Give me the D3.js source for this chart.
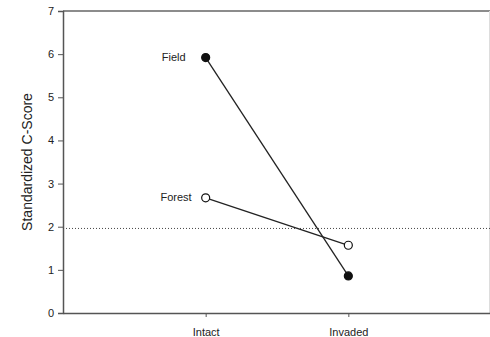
<!DOCTYPE html>
<html><head><meta charset="utf-8">
<script src="https://cdn.jsdelivr.net/npm/d3@7"></script>
<style>body{margin:0;background:#fff}svg{display:block}text{font-family:"Liberation Sans",Arial,sans-serif;fill:#222}</style>
</head><body><svg id="c" width="490" height="337"></svg>
<script>
const categories = ["Intact", "Invaded"];
const seriesNames = ["Field", "Forest"];
const fieldValues = [5.92, 0.86];
const forestValues = [2.67, 1.57];
const yTicks = [0, 1, 2, 3, 4, 5, 6, 7];
const refLine = 1.96;
const yTitle = "Standardized C-Score";

const svg = d3.select("#c");
const m = {l: 63, r: 0, t: 11, b: 24};
const x = d3.scaleLinear().domain([0, 3]).range([m.l, 491]);
const y = d3.scaleLinear().domain([0, 7]).range([313, m.t]);
const xPos = i => x(i + 1);

// frame top and right
svg.append("line").attr("x1", m.l).attr("x2", 490).attr("y1", y(7)).attr("y2", y(7))
  .attr("stroke", "#666").attr("stroke-width", 1.5);
svg.append("line").attr("x1", 489.5).attr("x2", 489.5).attr("y1", y(7)).attr("y2", y(0))
  .attr("stroke", "#ddd").attr("stroke-width", 1);

// y axis
const ya = svg.append("g").attr("transform", `translate(${m.l},0)`)
  .call(d3.axisLeft(y).tickValues(yTicks).tickFormat(d3.format("d")).tickSize(5).tickPadding(4));
ya.select(".domain").attr("stroke", "#555").attr("stroke-width", 1.5);
ya.selectAll(".tick line").attr("stroke", "#555");
ya.selectAll("text").attr("font-size", 11).style("fill", "#222");

// x axis
const xa = svg.append("g").attr("transform", `translate(0,${y(0)})`)
  .call(d3.axisBottom(x).tickValues([1, 2]).tickFormat(d => categories[d - 1]).tickSize(4).tickSizeOuter(0).tickPadding(11));
xa.select(".domain").attr("stroke", "#555").attr("stroke-width", 1.5);
xa.selectAll(".tick line").attr("stroke", "#555");
xa.selectAll("text").attr("font-size", 11).style("fill", "#222");

// reference dotted line
svg.append("line").attr("x1", m.l).attr("x2", 490).attr("y1", y(refLine)).attr("y2", y(refLine))
  .attr("stroke", "#444").attr("stroke-width", 1).attr("stroke-dasharray", "1,2");

// y title
svg.append("text").attr("transform", `translate(28,${(y(0)+y(7))/2}) rotate(-90)`)
  .attr("text-anchor", "middle").attr("dominant-baseline", "middle").attr("font-size", 14).text(yTitle);

const series = [
  {name: seriesNames[0], values: fieldValues, fill: "#111", dx: -20},
  {name: seriesNames[1], values: forestValues, fill: "#fff", dx: -14}
];
const line = d3.line().x((d, i) => xPos(i)).y(d => y(d));
series.forEach(s => {
  svg.append("path").attr("d", line(s.values)).attr("fill", "none").attr("stroke", "#222").attr("stroke-width", 1.3);
  svg.selectAll(null).data(s.values).enter().append("circle")
    .attr("cx", (d, i) => xPos(i)).attr("cy", d => y(d)).attr("r", 4)
    .attr("fill", s.fill).attr("stroke", "#111").attr("stroke-width", 1.2);
  svg.append("text").attr("x", xPos(0) + s.dx).attr("y", y(s.values[0]))
    .attr("text-anchor", "end").attr("dominant-baseline", "middle").attr("font-size", 11).text(s.name);
});
</script></body></html>
